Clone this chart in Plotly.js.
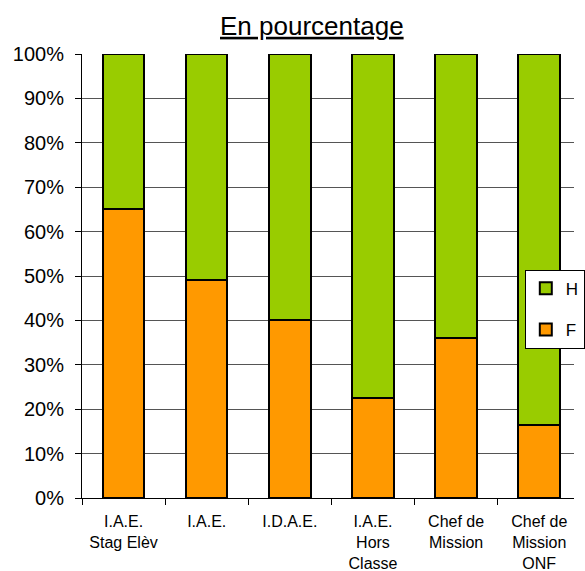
<!DOCTYPE html>
<html>
<head>
<meta charset="utf-8">
<script src="https://cdn.plot.ly/plotly-3.0.1.min.js"></script>
<style>html,body{margin:0;padding:0;overflow:hidden;background:#fff;}</style>
</head>
<body>
<div id="chart" style="width:585px;height:571px;"></div>
<script>
const categories = ["I.A.E.<br>Stag Elèv", "I.A.E.", "I.D.A.E.", "I.A.E.<br>Hors<br>Classe", "Chef de<br>Mission", "Chef de<br>Mission<br>ONF"];
const femmes = [65, 49, 40, 22.6, 36.1, 16.4];
const hommes = [35, 51, 60, 77.4, 63.9, 83.6];
const yTicks = [0, 10, 20, 30, 40, 50, 60, 70, 80, 90, 100];

const font = "Arial, 'Liberation Sans', sans-serif";
const traces = [
  {type: "bar", name: "F", legendgroup: "f", legendrank: 2, x: categories, y: femmes,
   marker: {color: "#FF9900", line: {color: "#000", width: 2}}, width: 0.5},
  {type: "bar", name: "H", legendgroup: "h", legendrank: 1, x: categories, y: hommes,
   marker: {color: "#99CC00", line: {color: "#000", width: 2}}, width: 0.5}
];
const layout = {
  width: 585, height: 571,
  margin: {l: 82, r: 0, t: 54, b: 72.5, pad: 0},
  paper_bgcolor: "#fff", plot_bgcolor: "#fff",
  barmode: "stack", showlegend: true,
  font: {family: font, color: "#000", size: 17},
  title: {text: "<u>En pourcentage</u>", font: {family: font, size: 26, color: "#000"},
          x: 0.533, xref: "container", xanchor: "center", y: 0.955, yref: "container", yanchor: "middle"},
  xaxis: {type: "category", range: [-0.5, 5.418], showline: true, linecolor: "#000", linewidth: 1,
          ticks: "outside", tickson: "boundaries", ticklen: 6, tickcolor: "#000",
          tickfont: {family: font, size: 16, color: "#000"}, showgrid: false, fixedrange: true,
          ticklabelstandoff: 9},
  yaxis: {range: [0, 100], tickvals: yTicks, ticktext: yTicks.map(v => v + "%"),
          showline: true, linecolor: "#000", linewidth: 1, ticks: "outside", ticklen: 6, tickcolor: "#000",
          showgrid: true, gridcolor: "#555", gridwidth: 1, zeroline: false,
          tickfont: {family: font, size: 20, color: "#000"}, ticklabelstandoff: 7},
  legend: {x: 0.90, y: 0.514, xanchor: "left", yanchor: "top", traceorder: "grouped",
           bgcolor: "#fff", bordercolor: "#000", borderwidth: 1, tracegroupgap: 16,
           font: {family: font, size: 17, color: "#000"}, itemwidth: 30}
};
Plotly.newPlot("chart", traces, layout, {displayModeBar: false, staticPlot: true});
</script>
</body>
</html>
